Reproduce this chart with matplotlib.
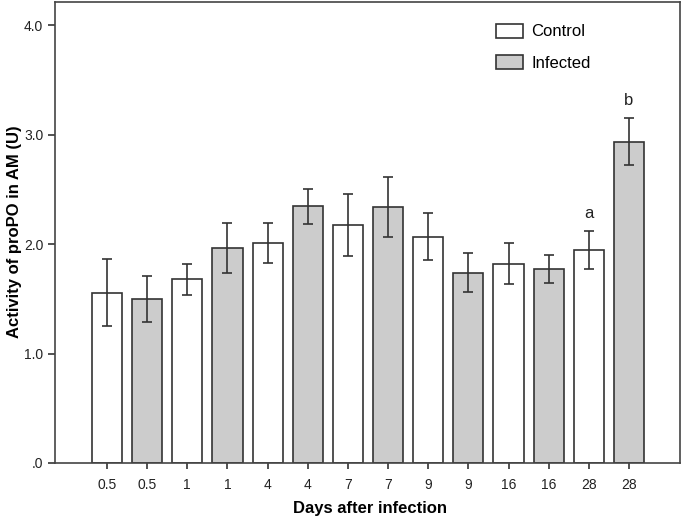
import matplotlib
matplotlib.use("Agg")
import matplotlib.pyplot as plt
import numpy as np
from matplotlib.patches import Patch

plt.rcParams['font.family'] = ['Liberation Sans', 'DejaVu Sans']

labels = ["0.5", "0.5", "1", "1", "4", "4", "7", "7", "9", "9", "16", "16", "28", "28"]
groups = ["Control", "Infected"] * 7
means = [1.555, 1.498, 1.68, 1.966, 2.006, 2.344, 2.17, 2.335, 2.067, 1.738, 1.817, 1.772, 1.945, 2.928]
err_hi = [1.86, 1.708, 1.815, 2.195, 2.189, 2.505, 2.457, 2.61, 2.286, 1.915, 2.006, 1.902, 2.119, 3.148]
err_lo = [1.251, 1.29, 1.534, 1.738, 1.824, 2.183, 1.89, 2.06, 1.854, 1.559, 1.635, 1.641, 1.769, 2.721]
annotations = {12: "a", 13: "b"}
colors = {"Control": "white", "Infected": "#cccccc"}

fig = plt.figure(figsize=(6.85, 5.19), dpi=100)
ax = fig.add_axes([0.0803, 0.1079, 0.9124, 0.8882])

x = np.arange(len(means))
m = np.array(means)
yerr = np.vstack([m - np.array(err_lo), np.array(err_hi) - m])
ax.bar(x, means, width=0.75, color=[colors[g] for g in groups],
       edgecolor="#333333", linewidth=1.2, zorder=2)
ax.errorbar(x, means, yerr=yerr, fmt="none", ecolor="#333333",
            elinewidth=1.2, capsize=3.8, capthick=1.2, zorder=3)

for i, t in annotations.items():
    ax.text(x[i], err_hi[i] + 0.16, t, ha="center", va="center",
            fontsize=12, color="#222222")

ax.set_xlim(-1.295, 14.27)
ax.set_ylim(0, 4.21)
ax.set_xticks(x)
ax.set_xticklabels(labels)
ax.set_yticks([0, 1, 2, 3, 4])
ax.set_yticklabels([".0", "1.0", "2.0", "3.0", "4.0"])
ax.tick_params(axis="both", direction="out", length=5, width=1.2,
               color="#333333", labelsize=10, labelcolor="#222222", pad=3.5)
ax.tick_params(axis="x", length=4.3, pad=6.5)
for s in ax.spines.values():
    s.set_color("#444444")
    s.set_linewidth(1.2)

fig.text(370 / 685, 1 - 508 / 519, "Days after infection", fontsize=12,
         fontweight="bold", ha="center", va="center")
fig.text(15 / 685, 1 - 232 / 519, "Activity of proPO in AM (U)", fontsize=12,
         fontweight="bold", ha="center", va="center", rotation=90)

handles = [Patch(facecolor="white", edgecolor="#333333", linewidth=1.2),
           Patch(facecolor="#cccccc", edgecolor="#333333", linewidth=1.2)]
ax.legend(handles, ["Control", "Infected"], loc="upper left",
          bbox_to_anchor=(0.7056, 0.953), frameon=False, fontsize=12,
          borderpad=0, borderaxespad=0,
          handlelength=1.6, handleheight=0.9, labelspacing=0.95, handletextpad=0.5)

fig.savefig("out.png", dpi=100)
